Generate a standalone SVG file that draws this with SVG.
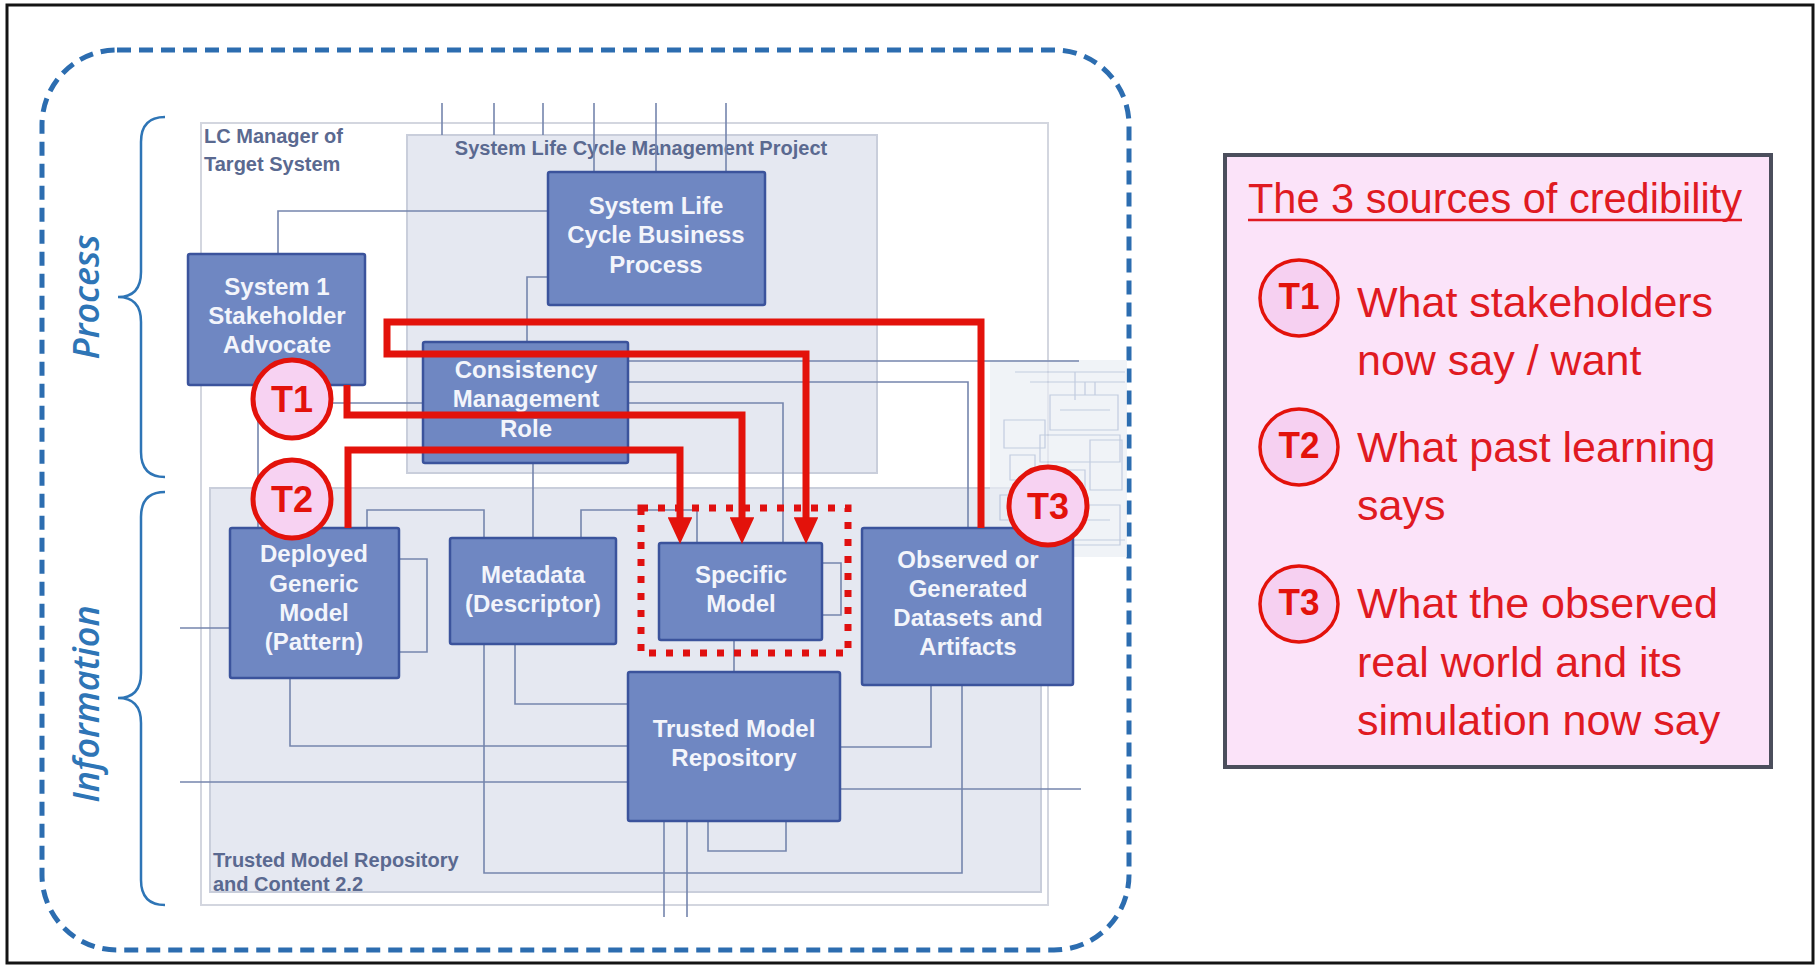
<svg xmlns="http://www.w3.org/2000/svg" width="1820" height="966" viewBox="0 0 1820 966">
  <defs>
    <style>
      .node rect{fill:#6f87c2;stroke:#3b539c;stroke-width:2.5}
      .node text{font-family:"Liberation Sans",Arial,sans-serif;font-weight:bold;font-size:24px;fill:#f3f5fb;text-anchor:middle}
      .rlabel{font-family:"Liberation Sans",Arial,sans-serif;font-weight:bold;font-size:20px;fill:#5a6990}
      .wire{fill:none;stroke:#7585ad;stroke-width:1.6}
      .faint{fill:none;stroke:#a9b8d2;stroke-width:1.2}
      .red{fill:none;stroke:#e3120b;stroke-width:7;stroke-linejoin:miter}
      .tag circle{fill:#f7d2f2;stroke:#e3120b;stroke-width:5}
      .tag text{font-family:"Liberation Sans",Arial,sans-serif;font-weight:bold;font-size:36px;fill:#e3120b;text-anchor:middle}
      .ktag ellipse{fill:#f6d0f1;stroke:#e3120b;stroke-width:3.5}
      .ktag text{font-family:"Liberation Sans",Arial,sans-serif;font-weight:bold;font-size:36px;fill:#e3120b;text-anchor:middle}
      .key{font-family:"Liberation Sans",Arial,sans-serif;font-size:43px;fill:#e01a22}
      .side{font-family:"Open Sans","DejaVu Sans",sans-serif;font-style:italic;font-weight:600;font-size:36px;fill:#2e75b6;text-anchor:middle}
      .brace{fill:none;stroke:#2e75b6;stroke-width:2.5}
    </style>
    <marker id="head" viewBox="0 0 10 10" refX="1" refY="5" markerWidth="3.8" markerHeight="3.5" orient="auto" markerUnits="strokeWidth" preserveAspectRatio="none">
      <path d="M0,0 L10,5 L0,10 z" fill="#e3120b"/>
    </marker>
  </defs>

  <!-- page -->
  <rect x="0" y="0" width="1820" height="966" fill="#ffffff"/>
  <rect x="7" y="5" width="1806" height="958" fill="none" stroke="#141414" stroke-width="3"/>

  <!-- outer dashed boundary -->
  <rect x="42" y="50" width="1087" height="900" rx="75" ry="75" fill="none" stroke="#2c6db0" stroke-width="5" stroke-dasharray="14 8"/>

  <!-- side braces and labels -->
  <g id="process-label">
    <path class="brace" d="M165,117 Q141,117 141,142 V272 Q141,297 118,297 Q141,297 141,322 V452 Q141,477 165,477"/>
    <text class="side" transform="translate(99,297) rotate(-90)">Process</text>
  </g>
  <g id="information-label">
    <path class="brace" d="M165,492 Q141,492 141,517 V673 Q141,698 118,698 Q141,698 141,723 V880 Q141,905 165,905"/>
    <text class="side" transform="translate(99,704) rotate(-90)">Information</text>
  </g>

  <!-- containers -->
  <g id="lc-manager">
    <rect x="201" y="123" width="847" height="782" fill="#ffffff" stroke="#d3d6df" stroke-width="2"/>
    <text class="rlabel" x="204" y="143">LC Manager of</text>
    <text class="rlabel" x="204" y="171">Target System</text>
  </g>
  <g id="slc-project">
    <rect x="407" y="135" width="470" height="338" fill="#e5e8f1" stroke="#c9cedb" stroke-width="2"/>
    <text class="rlabel" x="641" y="155" text-anchor="middle">System Life Cycle Management Project</text>
  </g>
  <g id="repo-content">
    <rect x="210" y="488" width="831" height="404" fill="#e5e8f1" stroke="#c9cedb" stroke-width="2"/>
    <text class="rlabel" x="213" y="867" fill="#6a79a3">Trusted Model Repository</text>
    <text class="rlabel" x="213" y="891" fill="#6a79a3">and Content 2.2</text>
  </g>

  <!-- faint overview texture at the right edge -->
  <g id="overview" opacity="0.7">
    <rect x="990" y="360" width="137" height="197" fill="#eaeef5"/>
    <path class="faint" d="M1015,372 H1125 M1030,382 H1125 M1075,372 V400 M1085,382 V395 M1095,382 V395 M1050,395 H1118 V430 H1050 Z M1060,410 H1110 M1004,420 H1045 V448 H1004 Z M1040,435 H1120 V462 H1040 Z M1010,455 H1035 V480 H1010 Z M1045,470 H1085 V500 H1045 Z M1090,440 H1122 V490 H1090 Z M1000,495 H1040 V520 H1000 Z M1060,505 H1120 V545 H1060 Z M1070,520 H1110 M1020,530 V552 M1040,540 H1125"/>
  </g>

  <!-- connectors -->
  <g id="connectors">
    <path class="wire" d="M442,103 V135 M494,103 V135 M543,103 V135 M594,103 V172 M656,103 V172 M726,103 V172"/>
    <path class="wire" d="M278,254 V211 H548"/>
    <path class="wire" d="M548,277 H527 V342"/>
    <path class="wire" d="M533,463 V538"/>
    <path class="wire" d="M628,361 H1079"/>
    <path class="wire" d="M628,382 H968 V528"/>
    <path class="wire" d="M628,403 H783 V543"/>
    <path class="wire" d="M258,528 V403 H423"/>
    <path class="wire" d="M367,528 V510 H484 V873 H962 V685"/>
    <path class="wire" d="M581,538 V510 H697 V543"/>
    <path class="wire" d="M399,559 H427 V652 H399"/>
    <path class="wire" d="M822,563 H841 V615 H822"/>
    <path class="wire" d="M180,628 H230"/>
    <path class="wire" d="M290,678 V746 H628"/>
    <path class="wire" d="M515,644 V704 H628"/>
    <path class="wire" d="M180,782 H628 M840,789 H1081"/>
    <path class="wire" d="M734,640 V672"/>
    <path class="wire" d="M840,747 H931 V685"/>
    <path class="wire" d="M664,821 V917 M687,821 V917 M708,821 V851 H786 V821"/>
  </g>

  <!-- nodes -->
  <g id="slc-business-process" class="node">
    <rect x="548" y="172" width="217" height="133" rx="2"/>
    <text x="656" y="214">System Life</text>
    <text x="656" y="243">Cycle Business</text>
    <text x="656" y="273">Process</text>
  </g>
  <g id="stakeholder-advocate" class="node">
    <rect x="188" y="254" width="177" height="131" rx="2"/>
    <text x="277" y="295">System 1</text>
    <text x="277" y="324">Stakeholder</text>
    <text x="277" y="353">Advocate</text>
  </g>
  <g id="consistency-role" class="node">
    <rect x="423" y="342" width="205" height="121" rx="2"/>
    <text x="526" y="378">Consistency</text>
    <text x="526" y="407">Management</text>
    <text x="526" y="437">Role</text>
  </g>
  <g id="generic-model" class="node">
    <rect x="230" y="528" width="169" height="150" rx="2"/>
    <text x="314" y="562">Deployed</text>
    <text x="314" y="592">Generic</text>
    <text x="314" y="621">Model</text>
    <text x="314" y="650">(Pattern)</text>
  </g>
  <g id="metadata" class="node">
    <rect x="450" y="538" width="166" height="106" rx="2"/>
    <text x="533" y="583">Metadata</text>
    <text x="533" y="612">(Descriptor)</text>
  </g>
  <g id="specific-model" class="node">
    <rect x="659" y="543" width="163" height="97" rx="2"/>
    <text x="741" y="583">Specific</text>
    <text x="741" y="612">Model</text>
  </g>
  <g id="datasets" class="node">
    <rect x="862" y="528" width="211" height="157" rx="2"/>
    <text x="968" y="568">Observed or</text>
    <text x="968" y="597">Generated</text>
    <text x="968" y="626">Datasets and</text>
    <text x="968" y="655">Artifacts</text>
  </g>
  <g id="model-repository" class="node">
    <rect x="628" y="672" width="212" height="149" rx="2"/>
    <text x="734" y="737">Trusted Model</text>
    <text x="734" y="766">Repository</text>
  </g>

  <!-- focus frame around the specific model -->
  <rect id="focus" x="641" y="508" width="207" height="145" fill="none" stroke="#e01010" stroke-width="7" stroke-dasharray="7 10"/>

  <!-- credibility flows -->
  <g id="flows">
    <path class="red" d="M347,385 V415 H742 V520" marker-end="url(#head)"/>
    <path class="red" d="M348,528 V450 H680 V520" marker-end="url(#head)"/>
    <path class="red" d="M981,528 V322 H387 V354 H806 V520" marker-end="url(#head)"/>
  </g>

  <!-- source tags -->
  <g id="tag-t1" class="tag"><circle cx="292" cy="399" r="39"/><text x="292" y="412">T1</text></g>
  <g id="tag-t2" class="tag"><circle cx="292" cy="499" r="39"/><text x="292" y="512">T2</text></g>
  <g id="tag-t3" class="tag"><circle cx="1048" cy="506" r="39"/><text x="1048" y="519">T3</text></g>

  <!-- key -->
  <g id="key">
    <rect x="1225" y="155" width="546" height="612" fill="#fbe3f9" stroke="#4b4e5c" stroke-width="4"/>
    <text class="key" x="1248" y="213" font-size="46" textLength="494" lengthAdjust="spacingAndGlyphs">The 3 sources of credibility</text>
    <line x1="1248" y1="220" x2="1742" y2="220" stroke="#e01a22" stroke-width="2.5"/>
    <g class="ktag"><ellipse cx="1299" cy="298" rx="39" ry="38"/><text x="1299" y="309" textLength="41" lengthAdjust="spacingAndGlyphs">T1</text></g>
    <text class="key" x="1357" y="317">What stakeholders</text>
    <text class="key" x="1357" y="375">now say / want</text>
    <g class="ktag"><ellipse cx="1299" cy="447" rx="39" ry="38"/><text x="1299" y="458" textLength="41" lengthAdjust="spacingAndGlyphs">T2</text></g>
    <text class="key" x="1357" y="462">What past learning</text>
    <text class="key" x="1357" y="520">says</text>
    <g class="ktag"><ellipse cx="1299" cy="604" rx="39" ry="38"/><text x="1299" y="615" textLength="41" lengthAdjust="spacingAndGlyphs">T3</text></g>
    <text class="key" x="1357" y="618">What the observed</text>
    <text class="key" x="1357" y="677">real world and its</text>
    <text class="key" x="1357" y="735">simulation now say</text>
  </g>
</svg>
